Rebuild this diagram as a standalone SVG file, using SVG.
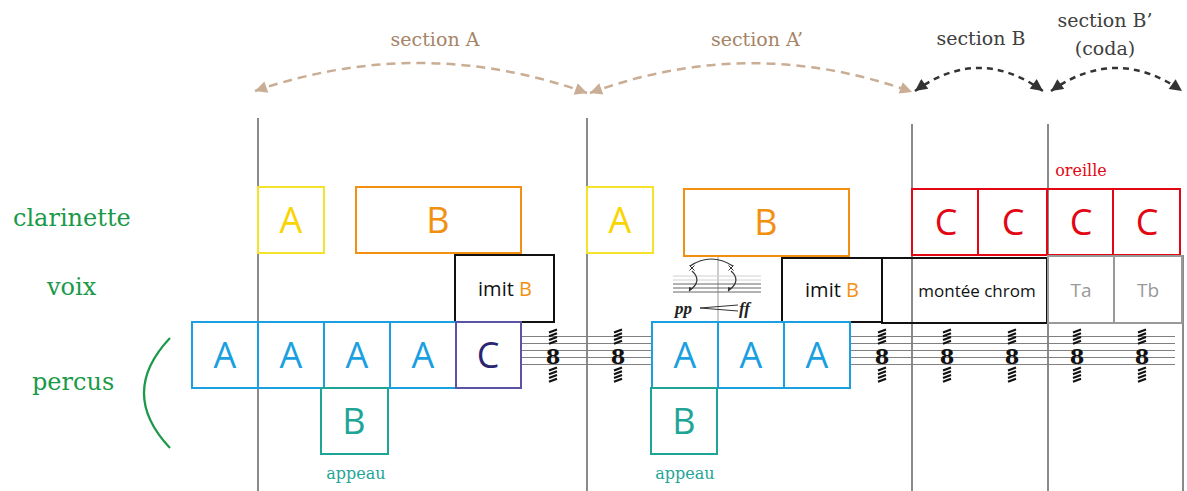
<svg xmlns="http://www.w3.org/2000/svg" width="1187" height="491" viewBox="0 0 1187 491">
<style>
.lbl{font-family:"DejaVu Serif","Liberation Serif",serif;font-size:24px;fill:#1a9a48;}
.sec{font-family:"DejaVu Serif","Liberation Serif",serif;font-size:19px;text-anchor:middle;}
.small{font-family:"DejaVu Serif","Liberation Serif",serif;font-size:16px;text-anchor:middle;}
.big{font-family:"Open Sans","Liberation Sans",sans-serif;font-size:36px;text-anchor:middle;}
.mid{font-family:"Open Sans","Liberation Sans",sans-serif;text-anchor:middle;}
.box{fill:none;stroke-width:2;}
.vl{stroke:#8a8a8a;stroke-width:2;fill:none;}
.staff{stroke:#808080;stroke-width:1.2;}
.arcT{fill:none;stroke:#c9ad94;stroke-width:2.5;stroke-dasharray:9 6;}
.arcD{fill:none;stroke:#333;stroke-width:2.5;stroke-dasharray:6 5;}
.dyn{font-family:"Liberation Serif",serif;font-style:italic;font-weight:bold;font-size:17px;fill:#222;}
</style>
<defs>
<marker id="mT" viewBox="0 0 10 10" refX="10" refY="5" markerWidth="14" markerHeight="12" markerUnits="userSpaceOnUse" orient="auto-start-reverse"><path d="M0,0 L10,5 L0,10 z" fill="#c9ad94"/></marker>
<marker id="mD" viewBox="0 0 10 10" refX="10" refY="5" markerWidth="14" markerHeight="12" markerUnits="userSpaceOnUse" orient="auto-start-reverse"><path d="M0,0 L10,5 L0,10 z" fill="#333"/></marker>
<g id="trem">
<path d="M-4,332.5 L4,329.5 M-4,336.3 L4,333.3 M-4,340 L4,337 M-4,343.7 L4,340.7 M-4,370.5 L4,367.5 M-4,374.3 L4,371.3 M-4,378 L4,375 M-4,381.7 L4,378.7" stroke="#111" stroke-width="2.2"/>
<text x="0" y="364" text-anchor="middle" font-family="DejaVu Serif,serif" font-weight="bold" font-size="21" fill="#111">8</text>
</g>
</defs>

<g id="timeline">
<line class="vl" x1="258" y1="118" x2="258" y2="491"/>
<line class="vl" x1="587" y1="118" x2="587" y2="491"/>
<line class="vl" x1="912" y1="124" x2="912" y2="491"/>
<line class="vl" x1="1048" y1="124" x2="1048" y2="491"/>
<line class="vl" x1="1183" y1="255" x2="1183" y2="491"/>
</g>

<g id="staves">
<g class="staff">
<line x1="521" y1="336.5" x2="652" y2="336.5"/><line x1="521" y1="343.5" x2="652" y2="343.5"/><line x1="521" y1="350.5" x2="652" y2="350.5"/><line x1="521" y1="357.5" x2="652" y2="357.5"/><line x1="521" y1="364.5" x2="652" y2="364.5"/>
<line x1="850" y1="336.5" x2="1175" y2="336.5"/><line x1="850" y1="343.5" x2="1175" y2="343.5"/><line x1="850" y1="350.5" x2="1175" y2="350.5"/><line x1="850" y1="357.5" x2="1175" y2="357.5"/><line x1="850" y1="364.5" x2="1175" y2="364.5"/>
</g>
<use href="#trem" x="553"/>
<use href="#trem" x="618"/>
<use href="#trem" x="882"/>
<use href="#trem" x="947"/>
<use href="#trem" x="1012"/>
<use href="#trem" x="1077"/>
<use href="#trem" x="1142"/>
</g>

<g id="labels">
<text class="lbl" x="13" y="226">clarinette</text>
<text class="lbl" x="47" y="295">voix</text>
<text class="lbl" x="32" y="390">percus</text>
<path d="M170,338 Q118,393 170,448" fill="none" stroke="#1a9a48" stroke-width="2.2"/>
</g>

<g id="connectors">
<path class="arcT" d="M587,93 Q421,34 255,91" marker-end="url(#mT)" marker-start="url(#mT)"/>
<path class="arcT" d="M590,93 Q751,34 912,92" marker-end="url(#mT)" marker-start="url(#mT)"/>
<path class="arcD" d="M915,91 Q979,45 1043,91" marker-end="url(#mD)" marker-start="url(#mD)"/>
<path class="arcD" d="M1051,91 Q1116,45 1182,91" marker-end="url(#mD)" marker-start="url(#mD)"/>
</g>

<g id="section-titles">
<text class="sec" x="435" y="46" fill="#a58468">section A</text>
<text class="sec" x="757" y="46" fill="#a58468">section A’</text>
<text class="sec" x="981" y="45" fill="#404040">section B</text>
<text class="sec" x="1105" y="27" fill="#404040">section B’</text>
<text class="sec" x="1105" y="55" fill="#404040">(coda)</text>
</g>

<g id="clar-A1"><rect class="box" x="258" y="187" width="66" height="66" stroke="#f5e22a"/><text class="big" x="291" y="233" fill="#f9d400">A</text></g>
<g id="clar-B1"><rect class="box" x="356" y="187" width="165" height="66" stroke="#f29111"/><text class="big" x="438" y="233" fill="#f29111">B</text></g>
<g id="voix-imit1"><rect class="box" x="455" y="255" width="99" height="67" stroke="#111" stroke-width="2.5"/><text class="mid" x="505" y="296" font-size="20" fill="#111">imit <tspan fill="#f29111">B</tspan></text></g>

<g id="perc-A1"><rect class="box" x="192" y="322" width="66" height="66" stroke="#1a9fe0"/><text class="big" x="225" y="368" fill="#1a9fe0">A</text></g>
<g id="perc-A2"><rect class="box" x="258" y="322" width="66" height="66" stroke="#1a9fe0"/><text class="big" x="291" y="368" fill="#1a9fe0">A</text></g>
<g id="perc-A3"><rect class="box" x="324" y="322" width="66" height="66" stroke="#1a9fe0"/><text class="big" x="357" y="368" fill="#1a9fe0">A</text></g>
<g id="perc-A4"><rect class="box" x="390" y="322" width="66" height="66" stroke="#1a9fe0"/><text class="big" x="423" y="368" fill="#1a9fe0">A</text></g>
<g id="perc-C1"><rect class="box" x="456" y="322" width="65" height="66" stroke="#5b53a4"/><text class="big" x="488" y="368" fill="#2b2672">C</text></g>
<g id="perc-B1"><rect class="box" x="321" y="388" width="67" height="66" stroke="#1fa597"/><text class="big" x="354" y="434" fill="#1fa597">B</text><text class="small" x="356" y="479" fill="#1fa597">appeau</text></g>

<g id="clar-A2"><rect class="box" x="587" y="187" width="66" height="66" stroke="#f5e22a"/><text class="big" x="620" y="233" fill="#f9d400">A</text></g>
<g id="clar-B2"><rect class="box" x="684" y="189" width="165" height="67" stroke="#f29111"/><text class="big" x="766" y="235" fill="#f29111">B</text></g>

<g id="voix-notation">
<line x1="718" y1="257" x2="718" y2="322" stroke="#999" stroke-width="1"/>
<g stroke-width="1">
<line x1="673" y1="276" x2="761" y2="276" stroke="#d0d0d0"/>
<line x1="673" y1="280" x2="761" y2="280" stroke="#d0d0d0"/>
<line x1="673" y1="284" x2="761" y2="284" stroke="#666"/>
<line x1="673" y1="288" x2="761" y2="288" stroke="#666"/>
<line x1="673" y1="292" x2="761" y2="292" stroke="#666"/>
</g>
<path d="M690,266 Q711,252 733,266" fill="none" stroke="#333" stroke-width="1.2"/>
<path d="M689.5,265.5 L694.5,270.5 M694.5,265.5 L689.5,270.5 M728.5,265.5 L733.5,270.5 M733.5,265.5 L728.5,270.5" stroke="#333" stroke-width="1"/>
<path d="M692,271 C699,277 699,284 689,291 M731,271 C738,277 738,284 728,291" fill="none" stroke="#333" stroke-width="1.2"/>
<path d="M689,291 l0,-4 l3,1 z M728,291 l0,-4 l3,1 z" fill="#333"/>
<text class="dyn" x="675" y="314">pp</text>
<path d="M700,308 L738,305 M700,308 L738,311" stroke="#333" stroke-width="1" fill="none"/>
<text class="dyn" x="739" y="314">ff</text>
</g>
<g id="voix-imit2"><rect class="box" x="782" y="258" width="100" height="64" stroke="#111" stroke-width="2.5"/><text class="mid" x="832" y="297" font-size="20" fill="#111">imit <tspan fill="#f29111">B</tspan></text></g>
<g id="voix-montee"><rect class="box" x="882" y="258" width="165" height="65" stroke="#111" stroke-width="2.5"/><text class="mid" x="977" y="297" font-size="17" fill="#111">montée chrom</text></g>

<g id="perc-A5"><rect class="box" x="652" y="322" width="66" height="66" stroke="#1a9fe0"/><text class="big" x="685" y="368" fill="#1a9fe0">A</text></g>
<g id="perc-A6"><rect class="box" x="718" y="322" width="66" height="66" stroke="#1a9fe0"/><text class="big" x="751" y="368" fill="#1a9fe0">A</text></g>
<g id="perc-A7"><rect class="box" x="784" y="322" width="66" height="66" stroke="#1a9fe0"/><text class="big" x="817" y="368" fill="#1a9fe0">A</text></g>
<g id="perc-B2"><rect class="box" x="651" y="388" width="66" height="66" stroke="#1fa597"/><text class="big" x="684" y="434" fill="#1fa597">B</text><text class="small" x="685" y="479" fill="#1fa597">appeau</text></g>

<g id="clar-C1"><rect class="box" x="912" y="189" width="66" height="66" stroke="#e30613"/><text class="big" x="946" y="235" fill="#e30613">C</text></g>
<g id="clar-C2"><rect class="box" x="978" y="189" width="69" height="66" stroke="#e30613"/><text class="big" x="1013" y="235" fill="#e30613">C</text></g>
<g id="clar-C3"><rect class="box" x="1047" y="189" width="66" height="66" stroke="#e30613"/><text class="big" x="1081" y="235" fill="#e30613">C</text></g>
<g id="clar-C4"><rect class="box" x="1113" y="189" width="67" height="66" stroke="#e30613"/><text class="big" x="1147" y="235" fill="#e30613">C</text></g>
<text class="small" x="1081" y="176" fill="#e30613">oreille</text>

<g id="voix-Ta"><rect class="box" x="1048" y="256" width="66" height="67" stroke="#999"/><text class="mid" x="1081" y="297" font-size="19" fill="#999">Ta</text></g>
<g id="voix-Tb"><rect class="box" x="1114" y="256" width="68" height="67" stroke="#999"/><text class="mid" x="1148" y="297" font-size="19" fill="#999">Tb</text></g>
</svg>
